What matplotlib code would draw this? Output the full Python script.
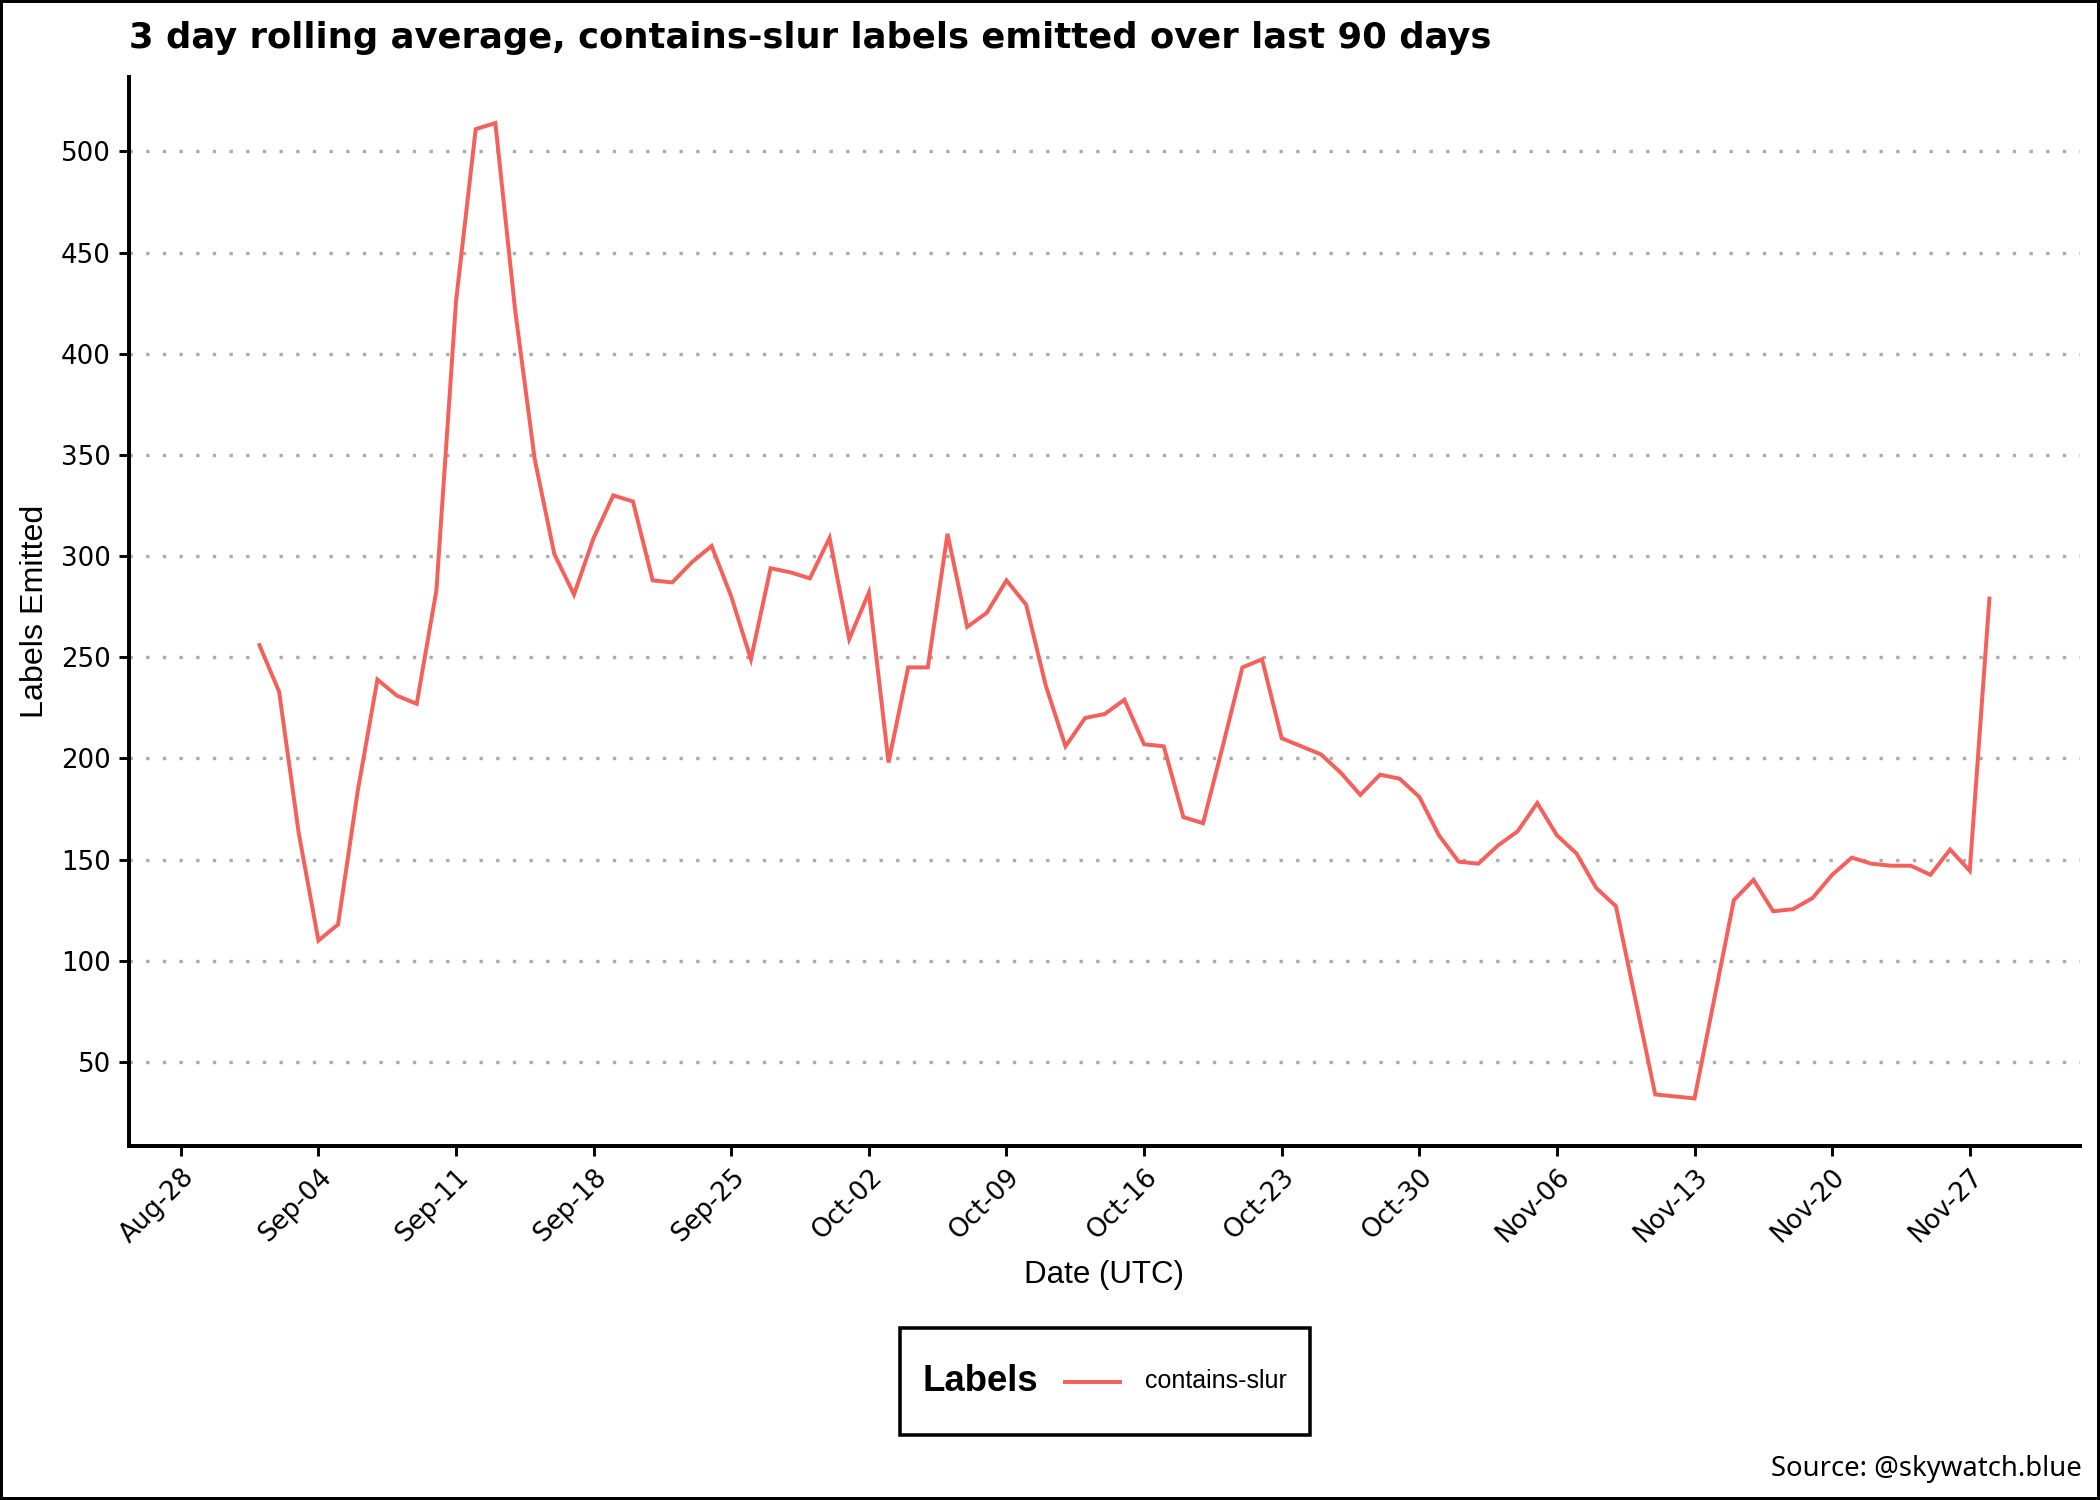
import matplotlib
matplotlib.use("Agg")
import matplotlib.pyplot as plt
import matplotlib.dates as mdates
import numpy as np
import pandas as pd
import datetime as dt

# ---------------- data ----------------
dates = [
    "2024-09-01", "2024-09-02", "2024-09-03", "2024-09-04", "2024-09-05", "2024-09-06",
    "2024-09-07", "2024-09-08", "2024-09-09", "2024-09-10", "2024-09-11", "2024-09-12",
    "2024-09-13", "2024-09-14", "2024-09-15", "2024-09-16", "2024-09-17", "2024-09-18",
    "2024-09-19", "2024-09-20", "2024-09-21", "2024-09-22", "2024-09-23", "2024-09-24",
    "2024-09-25", "2024-09-26", "2024-09-27", "2024-09-28", "2024-09-29", "2024-09-30",
    "2024-10-01", "2024-10-02", "2024-10-03", "2024-10-04", "2024-10-05", "2024-10-06",
    "2024-10-07", "2024-10-08", "2024-10-09", "2024-10-10", "2024-10-11", "2024-10-12",
    "2024-10-13", "2024-10-14", "2024-10-15", "2024-10-16", "2024-10-17", "2024-10-18",
    "2024-10-19", "2024-10-20", "2024-10-21", "2024-10-22", "2024-10-23", "2024-10-24",
    "2024-10-25", "2024-10-26", "2024-10-27", "2024-10-28", "2024-10-29", "2024-10-30",
    "2024-10-31", "2024-11-01", "2024-11-02", "2024-11-03", "2024-11-04", "2024-11-05",
    "2024-11-06", "2024-11-07", "2024-11-08", "2024-11-09", "2024-11-11", "2024-11-13",
    "2024-11-15", "2024-11-16", "2024-11-17", "2024-11-18", "2024-11-19", "2024-11-20",
    "2024-11-21", "2024-11-22", "2024-11-23", "2024-11-24", "2024-11-25", "2024-11-26",
    "2024-11-27", "2024-11-28",
]
contains_slur = [
    256, 233, 163, 110, 118, 184,
    239, 231, 227, 283, 426, 511,
    514, 422, 348, 301, 281, 309,
    330, 327, 288, 287, 297, 305,
    280, 249, 294, 292, 289, 309,
    259, 282, 198, 245, 245, 311,
    265, 272, 288, 276, 236, 206,
    220, 222, 229, 207, 206, 171,
    168, 206, 245, 249, 210, 206,
    202, 193, 182, 192, 190, 181,
    162, 149, 148, 157, 164, 178,
    162, 153, 136, 127, 34, 32,
    130, 140, 124.5, 125.5, 131, 142.5,
    151, 148, 147, 147, 142.5, 155,
    144.5, 279,
]
series_name = "contains-slur"
y_ticks = [50, 100, 150, 200, 250, 300, 350, 400, 450, 500]
x_tick_start, x_tick_end = "2024-08-28", "2024-11-27"

title = "3 day rolling average, contains-slur labels emitted over last 90 days"
x_label = "Date (UTC)"
y_label = "Labels Emitted"
legend_title = "Labels"
source = "Source: @skywatch.blue"

# ---------------- figure ----------------
line_color = "#F5605B"
fig = plt.figure(figsize=(14, 10), dpi=150)
fig.patch.set_facecolor("white")
fig.patch.set_edgecolor("black")
fig.patch.set_linewidth(2.0)

ax = fig.add_axes([0.0612, 0.236, 0.9292, 0.713])

x = pd.to_datetime(dates)
ln, = ax.plot(x, contains_slur, color=line_color, lw=1.9, solid_joinstyle="miter",
              label=series_name)

# axes limits
ref = mdates.date2num(dt.datetime(2024, 8, 28))
ax.set_xlim(ref - 2.66, ref + 96.6)
ax.set_ylim(8.5, 537)

# ticks
xt = pd.date_range(x_tick_start, x_tick_end, freq="7D")
ax.set_xticks(xt)
ax.xaxis.set_major_formatter(mdates.DateFormatter("%b-%d"))
ax.set_yticks(y_ticks)
ax.tick_params(axis="both", length=5, width=1.4, color="black", labelsize=12.5,
               labelcolor="black")
for lab in ax.get_xticklabels():
    lab.set_rotation(45)
    lab.set_ha("right")
    lab.set_rotation_mode("anchor")
    lab.set_family("DejaVu Sans")
for lab in ax.get_yticklabels():
    lab.set_family("DejaVu Sans")

# spines
for s in ["top", "right"]:
    ax.spines[s].set_visible(False)
for s in ["left", "bottom"]:
    ax.spines[s].set_linewidth(1.9)
    ax.spines[s].set_color("black")

# grid (horizontal dotted)
ax.yaxis.grid(True, color="#ababab", lw=1.6, linestyle=(0, (1, 4)))
ax.xaxis.grid(False)
ax.set_axisbelow(True)

# labels
ax.set_xlabel(x_label, fontsize=15, family="Liberation Sans")
ax.xaxis.set_label_coords(0.5, -0.1206)
ax.xaxis.label.set_va("center")
ax.set_ylabel(y_label, fontsize=15.5, family="Liberation Sans")
ax.yaxis.set_label_coords(-0.048, 0.5)
ax.yaxis.label.set_va("center")

ax.set_title(title, loc="left", y=1.0266, pad=0, fontsize=17,
             family="DejaVu Sans", fontweight="bold")

# legend with title on the left (ggplot style)
leg_fs = 12
leg_hh = 3.4
leg = fig.legend(handles=[ln], labels=[series_name], title=legend_title,
                 loc="center", bbox_to_anchor=(0.526, 0.079),
                 frameon=True, fancybox=False, edgecolor="black", framealpha=1.0,
                 prop={"family": "Liberation Sans", "size": leg_fs},
                 handlelength=2.2, handleheight=leg_hh, handletextpad=1.0,
                 columnspacing=1.1, borderpad=0.9)
leg.get_frame().set_linewidth(1.7)
leg.get_title().set_fontsize(17.5)
leg.get_title().set_fontweight("bold")
leg.get_title().set_family("Liberation Sans")
try:
    vbox = leg._legend_box
    tbox = leg._legend_title_box
    hbox = leg._legend_handle_box
    columns = list(hbox._children)
    for col in columns:
        for item in col.get_children():
            item.align = "center"
    vbox._children = [hbox]
    hbox._children = [tbox] + columns
    hbox.align = "center"
    # re-centre the key line vertically in its (tall) key box
    shift = 0.35 * leg_fs * (leg_hh - 0.7) / 2.0
    for l in leg.get_lines():
        l.set_ydata(np.asarray(l.get_ydata(), dtype=float) - shift)
except Exception:
    pass

fig.text(0.9915, 0.0205, source, ha="right", va="center", fontsize=13.2,
         family="Noto Sans")

fig.savefig("out.png", dpi=150, facecolor="white", edgecolor="black")
